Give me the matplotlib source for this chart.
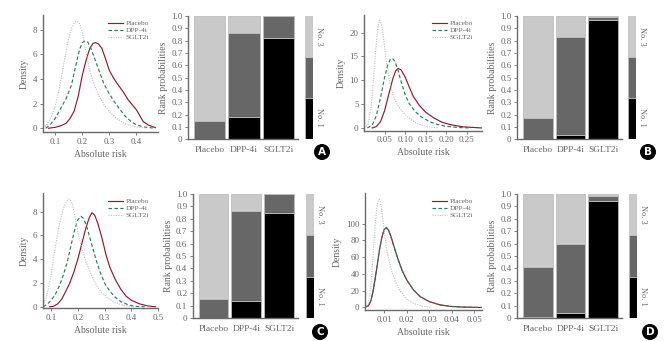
import numpy as np
import matplotlib
matplotlib.use("Agg")
import matplotlib.pyplot as plt

plt.rcParams['font.family'] = ['Liberation Serif', 'DejaVu Serif']

# ---- density curves ----
a_placebo_x = [0.075, 0.10, 0.12, 0.14, 0.155, 0.17, 0.185, 0.20, 0.215, 0.228, 0.24, 0.25, 0.26, 0.272,
               0.285, 0.30, 0.315, 0.33, 0.35, 0.37, 0.385, 0.40, 0.413, 0.425, 0.445, 0.47]
a_placebo_y = [0.0, 0.08, 0.2, 0.4, 0.8, 1.4, 2.6, 4.3, 5.6, 6.5, 6.9, 6.95, 6.85, 6.5,
               5.7, 4.7, 4.1, 3.6, 3.0, 2.3, 1.9, 1.5, 1.0, 0.55, 0.25, 0.05]
a_dpp_x = [0.065, 0.08, 0.10, 0.12, 0.14, 0.16, 0.175, 0.19, 0.20, 0.21, 0.22, 0.23, 0.245, 0.26,
           0.28, 0.30, 0.32, 0.34, 0.36, 0.38, 0.40, 0.43, 0.46]
a_dpp_y = [0.0, 0.25, 0.8, 1.6, 2.4, 3.5, 5.0, 6.4, 6.95, 7.1, 7.0, 6.6, 5.7, 4.8,
           3.6, 2.8, 2.1, 1.5, 0.95, 0.55, 0.27, 0.1, 0.02]
a_sglt_x = [0.055, 0.07, 0.085, 0.10, 0.115, 0.13, 0.145, 0.16, 0.172, 0.18, 0.19, 0.20, 0.21, 0.225,
            0.24, 0.26, 0.28, 0.30, 0.33, 0.36, 0.40, 0.44]
a_sglt_y = [0.0, 0.3, 0.9, 1.8, 3.2, 5.0, 6.9, 8.1, 8.6, 8.7, 8.5, 7.8, 6.6, 4.9,
            3.8, 2.7, 1.9, 1.35, 0.75, 0.35, 0.1, 0.0]

b_placebo_x = [0.02, 0.03, 0.04, 0.05, 0.06, 0.07, 0.077, 0.083, 0.09, 0.10, 0.11, 0.12, 0.135, 0.15,
               0.17, 0.19, 0.21, 0.24, 0.287]
b_placebo_y = [0.0, 0.3, 1.3, 3.6, 7.0, 10.3, 12.0, 12.5, 12.2, 10.7, 8.6, 6.6, 4.7, 3.3,
               2.1, 1.2, 0.7, 0.25, 0.0]
b_dpp_x = [0.008, 0.02, 0.03, 0.04, 0.05, 0.058, 0.064, 0.069, 0.075, 0.082, 0.09, 0.10, 0.11, 0.125,
           0.14, 0.16, 0.18, 0.20, 0.23, 0.26]
b_dpp_y = [0.0, 0.6, 2.6, 6.3, 10.6, 13.3, 14.4, 14.6, 14.0, 12.3, 9.8, 7.0, 5.1, 3.4,
           2.3, 1.3, 0.7, 0.35, 0.1, 0.0]
b_sglt_x = [0.0, 0.01, 0.018, 0.025, 0.031, 0.035, 0.038, 0.041, 0.045, 0.05, 0.056, 0.063, 0.07, 0.08,
            0.09, 0.10, 0.115, 0.13, 0.15, 0.18]
b_sglt_y = [0.0, 0.8, 5.0, 12.5, 19.0, 21.8, 22.6, 22.2, 20.6, 17.0, 12.8, 9.5, 7.0, 5.0,
            3.8, 2.8, 1.7, 0.9, 0.35, 0.0]

c_placebo_x = [0.095, 0.11, 0.125, 0.14, 0.155, 0.17, 0.185, 0.20, 0.215, 0.23, 0.243, 0.253, 0.263, 0.275,
               0.29, 0.305, 0.32, 0.34, 0.36, 0.38, 0.40, 0.43, 0.46, 0.49]
c_placebo_y = [0.0, 0.05, 0.25, 0.65, 1.3, 2.0, 2.9, 4.0, 5.3, 6.6, 7.5, 7.9, 7.7, 7.0,
               5.8, 4.4, 3.3, 2.3, 1.5, 0.9, 0.55, 0.25, 0.08, 0.0]
c_dpp_x = [0.07, 0.085, 0.10, 0.115, 0.13, 0.145, 0.16, 0.175, 0.19, 0.20, 0.212, 0.222, 0.235, 0.25,
           0.265, 0.28, 0.30, 0.32, 0.34, 0.36, 0.39, 0.42, 0.45]
c_dpp_y = [0.0, 0.2, 0.55, 1.0, 1.7, 2.6, 3.7, 5.2, 6.6, 7.3, 7.6, 7.4, 6.6, 5.4,
           4.2, 3.1, 2.0, 1.3, 0.8, 0.45, 0.15, 0.03, 0.0]
c_sglt_x = [0.07, 0.085, 0.10, 0.115, 0.13, 0.145, 0.158, 0.166, 0.172, 0.18, 0.19, 0.20, 0.215, 0.23,
            0.25, 0.27, 0.29, 0.31, 0.34, 0.37, 0.41]
c_sglt_y = [0.1, 1.0, 2.7, 4.9, 6.8, 8.2, 8.85, 9.05, 9.0, 8.6, 7.5, 6.3, 4.9, 3.8,
            2.7, 1.8, 1.2, 0.75, 0.35, 0.12, 0.0]

d_placebo_x = [0.0015, 0.003, 0.004, 0.005, 0.006, 0.007, 0.008, 0.009, 0.010, 0.011, 0.012, 0.013, 0.014,
               0.016, 0.018, 0.020, 0.023, 0.026, 0.030, 0.035, 0.040, 0.045, 0.0535]
d_placebo_y = [0.5, 2, 7, 18, 34, 52, 70, 84, 93, 95.5, 92, 85, 76,
               59, 44, 33, 21, 13, 7, 3, 1.2, 0.5, 0]
d_dpp_x = [0.0015, 0.003, 0.004, 0.005, 0.006, 0.007, 0.008, 0.009, 0.010, 0.011, 0.012, 0.013, 0.014,
           0.016, 0.018, 0.020, 0.023, 0.026, 0.030, 0.035, 0.040, 0.045, 0.0535]
d_dpp_y = [0.5, 2.2, 7.5, 18.5, 34.5, 52.5, 70, 84, 92.5, 95, 91.5, 84.5, 75.5,
           58.5, 44, 33, 21, 13, 7, 3, 1.2, 0.5, 0]
d_sglt_x = [0.0015, 0.003, 0.004, 0.005, 0.006, 0.0068, 0.0074, 0.0078, 0.0083, 0.009, 0.010, 0.011, 0.012,
            0.0135, 0.015, 0.017, 0.020, 0.023, 0.027, 0.031]
d_sglt_y = [0.0, 5, 22, 58, 98, 120, 128, 129, 126, 114, 92, 72, 58,
            42, 31, 20, 10, 5, 1.5, 0]

# ---- rank probabilities: rank1, rank2, rank3 for Placebo, DPP-4i, SGLT2i ----
treatments = ['Placebo', 'DPP-4i', 'SGLT2i']
a_rank1 = [0.0, 0.18, 0.82]
a_rank2 = [0.15, 0.68, 0.18]
a_rank3 = [0.85, 0.14, 0.0]
b_rank1 = [0.0, 0.03, 0.965]
b_rank2 = [0.17, 0.80, 0.03]
b_rank3 = [0.83, 0.17, 0.005]
c_rank1 = [0.0, 0.14, 0.85]
c_rank2 = [0.15, 0.72, 0.15]
c_rank3 = [0.85, 0.14, 0.0]
d_rank1 = [0.005, 0.04, 0.94]
d_rank2 = [0.405, 0.56, 0.045]
d_rank3 = [0.59, 0.40, 0.015]

RED = '#8b1c2c'
GREEN = '#2f7a58'
GREY = '#bdbdbd'
TXT = '#666666'
SPINE = '#6a6a6a'
RANK_COLORS = ['#000000', '#676767', '#c9c9c9']


def style_axes(ax):
    for s in ['top', 'right']:
        ax.spines[s].set_visible(False)
    for s in ['left', 'bottom']:
        ax.spines[s].set_color(SPINE)
        ax.spines[s].set_linewidth(1.0)
    ax.tick_params(colors=SPINE, labelcolor=TXT, labelsize=6.5, length=2, width=0.6, pad=2)


def density(fig, rect, curves, xlim, ylim, xticks, yticks, xticklabels):
    ax = fig.add_axes(rect)
    (px, py), (dx, dy), (sx, sy) = curves
    ax.plot(px, py, color=RED, lw=0.85, label='Placebo')
    ax.plot(dx, dy, color=GREEN, lw=0.85, ls=(0, (3, 2)), label='DPP-4i')
    ax.plot(sx, sy, color=GREY, lw=0.8, ls=(0, (1, 1.2)), label='SGLT2i')
    ax.set_xlim(xlim)
    ax.set_ylim(ylim)
    ax.set_xticks(xticks)
    ax.set_xticklabels(xticklabels)
    ax.set_yticks(yticks)
    style_axes(ax)
    ax.set_xlabel('Absolute risk', fontsize=7, color=TXT, labelpad=3)
    ax.set_ylabel('Density', fontsize=7, color=TXT, labelpad=3)
    ax.legend(loc='upper right', frameon=False, fontsize=5.3, handlelength=2.0,
              handletextpad=0.4, labelspacing=0.1, borderaxespad=0.0,
              bbox_to_anchor=(0.95, 0.98), labelcolor=TXT)
    return ax


def ranks(fig, rect, crect, r1, r2, r3, letter, lpos):
    ax = fig.add_axes(rect)
    x = np.arange(len(treatments))
    bottom = np.zeros(len(treatments))
    for vals, col in zip([r1, r2, r3], RANK_COLORS):
        ax.bar(x, vals, bottom=bottom, width=0.91, color=col, edgecolor='#bdbdbd', linewidth=0.6)
        bottom = bottom + np.array(vals)
    ax.set_xlim(-0.63, 2.57)
    ax.set_ylim(0, 1.0)
    ax.set_xticks(x)
    ax.set_xticklabels(treatments)
    ax.set_yticks(np.arange(0, 1.01, 0.1))
    ax.set_yticklabels(['0'] + ['%.1f' % v for v in np.arange(0.1, 1.01, 0.1)])
    style_axes(ax)
    ax.tick_params(axis='x', length=0, pad=5, labelsize=6.8)
    ax.set_ylabel('Rank probabilities', fontsize=7, color=TXT, labelpad=2)

    cax = fig.add_axes(crect)
    for i, col in enumerate(RANK_COLORS):
        cax.bar(0, 1 / 3, bottom=i / 3, width=1, color=col, edgecolor='#bdbdbd', linewidth=0.5)
    cax.set_xlim(-0.5, 0.5)
    cax.set_ylim(0, 1)
    cax.axis('off')
    cax.text(1.7, 1 / 6 + 0.01, 'No. 1', rotation=270, transform=cax.transAxes,
             ha='center', va='center', fontsize=6, color=TXT)
    cax.text(1.7, 5 / 6, 'No. 3', rotation=270, transform=cax.transAxes,
             ha='center', va='center', fontsize=6, color=TXT)

    fig.text(lpos[0] / 665, 1 - lpos[1] / 341, letter, ha='center', va='center',
             fontsize=7.5, fontweight='bold', color='white', family='DejaVu Sans',
             bbox=dict(boxstyle='circle,pad=0.22', fc='black', ec='black'))
    return ax


fig = plt.figure(figsize=(6.65, 3.41), dpi=100)

density(fig, [0.0647, 0.613, 0.173, 0.343],
        [(a_placebo_x, a_placebo_y), (a_dpp_x, a_dpp_y), (a_sglt_x, a_sglt_y)],
        (0.055, 0.48), (-0.3, 9.2), [0.1, 0.2, 0.3, 0.4], [0, 2, 4, 6, 8],
        ['0.1', '0.2', '0.3', '0.4'])
ranks(fig, [0.2827, 0.592, 0.1654, 0.3607], [0.4586, 0.592, 0.012, 0.3607],
      a_rank1, a_rank2, a_rank3, 'A', (322, 152))

density(fig, [0.5474, 0.617, 0.1774, 0.339],
        [(b_placebo_x, b_placebo_y), (b_dpp_x, b_dpp_y), (b_sglt_x, b_sglt_y)],
        (0.0, 0.287), (-0.55, 23.7), [0.05, 0.10, 0.15, 0.20, 0.25], [0, 5, 10, 15, 20],
        ['0.05', '0.10', '0.15', '0.20', '0.25'])
ranks(fig, [0.7774, 0.592, 0.158, 0.3607], [0.9444, 0.592, 0.0125, 0.3607],
      b_rank1, b_rank2, b_rank3, 'B', (648, 152))

density(fig, [0.0647, 0.0968, 0.173, 0.337],
        [(c_placebo_x, c_placebo_y), (c_dpp_x, c_dpp_y), (c_sglt_x, c_sglt_y)],
        (0.07, 0.5), (-0.1, 9.55), [0.1, 0.2, 0.3, 0.4, 0.5], [0, 2, 4, 6, 8],
        ['0.1', '0.2', '0.3', '0.4', '0.5'])
ranks(fig, [0.290, 0.0674, 0.158, 0.3636], [0.4602, 0.0674, 0.012, 0.3636],
      c_rank1, c_rank2, c_rank3, 'C', (320, 332))

density(fig, [0.5489, 0.0909, 0.176, 0.343],
        [(d_placebo_x, d_placebo_y), (d_dpp_x, d_dpp_y), (d_sglt_x, d_sglt_y)],
        (0.0015, 0.0535), (-3, 136.5), [0.01, 0.02, 0.03, 0.04, 0.05], [0, 20, 40, 60, 80, 100],
        ['0.01', '0.02', '0.03', '0.04', '0.05'])
ranks(fig, [0.7774, 0.0674, 0.158, 0.3636], [0.9459, 0.0674, 0.012, 0.3636],
      d_rank1, d_rank2, d_rank3, 'D', (650, 332))

fig.savefig('out.png', dpi=100)
